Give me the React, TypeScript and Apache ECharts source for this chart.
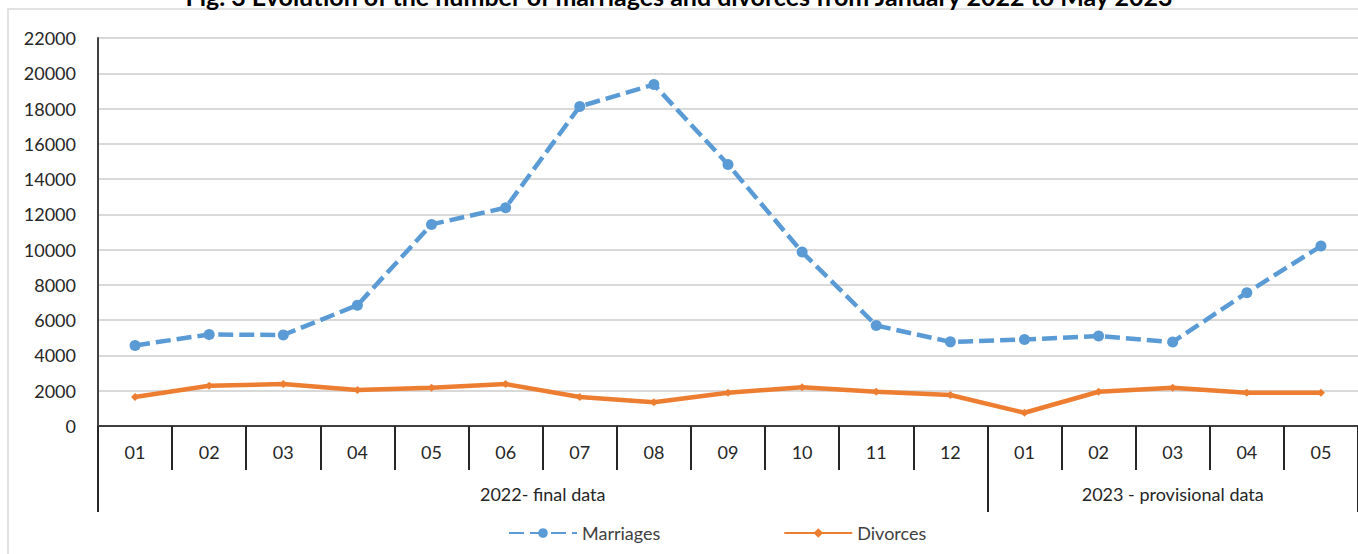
import React, { useEffect, useRef } from "react";
import * as echarts from "echarts";

const titleText = "Fig. 3 Evolution of the number of marriages and divorces from January 2022 to May 2023";
const months = ["01", "02", "03", "04", "05", "06", "07", "08", "09", "10", "11", "12", "01", "02", "03", "04", "05"];
const marriages = [4570, 5190, 5160, 6850, 11430, 12380, 18120, 19360, 14830, 9860, 5700, 4770, 4900, 5100, 4760, 7560, 10200];
const divorces = [1650, 2280, 2380, 2040, 2170, 2380, 1640, 1350, 1890, 2200, 1940, 1760, 750, 1940, 2170, 1880, 1880];
const groupNames = ["2022- final data", "2023 - provisional data"];
const groupSizes = [12, 5];
const yTicks = { min: 0, max: 22000, interval: 2000 };

const FONT = "Lato, 'Open Sans', sans-serif";

export default function App() {
  const ref = useRef<HTMLDivElement>(null);
  useEffect(() => {
    if (!ref.current) return;
    const chart = echarts.init(ref.current, undefined, { renderer: "svg" });

    const bounds: number[] = [0];
    groupSizes.forEach((s) => bounds.push(bounds[bounds.length - 1] + s));
    const centers = groupSizes.map((s, i) => bounds[i] + s / 2);

    chart.setOption({
      animation: false,
      backgroundColor: "#ffffff",
      textStyle: { fontFamily: FONT },
      title: {
        text: titleText,
        left: "center",
        top: -22,
        textStyle: { fontFamily: FONT, fontWeight: "bold", fontSize: 25, color: "#000" },
      },
      graphic: [
        {
          type: "rect",
          silent: true,
          shape: { x: 8, y: 9, width: 1380, height: 560 },
          style: { fill: "none", stroke: "#d9d9d9", lineWidth: 1.5 },
          z: -1,
        },
      ],
      legend: {
        left: 503,
        top: 519,
        itemWidth: 68,
        itemHeight: 12,
        itemGap: 123,
        textStyle: { fontFamily: FONT, fontSize: 18, color: "#404040" },
        data: ["Marriages", "Divorces"],
      },
      grid: { left: 98, top: 38, width: 1262, height: 388, containLabel: false },
      xAxis: [
        {
          type: "category",
          data: months,
          boundaryGap: true,
          axisLine: { show: true, lineStyle: { color: "#404040", width: 2 } },
          axisTick: { show: true, interval: 0, length: 44, lineStyle: { color: "#262626", width: 2 } },
          axisLabel: { interval: 0, margin: 17, fontFamily: FONT, fontSize: 18, color: "#262626" },
          splitLine: { show: false },
        },
        {
          type: "value",
          position: "bottom",
          min: 0,
          max: months.length,
          axisLine: { show: false },
          splitLine: { show: false },
          axisTick: {
            show: true,
            customValues: bounds,
            length: 86,
            lineStyle: { color: "#262626", width: 2 },
          },
          axisLabel: {
            show: true,
            customValues: centers,
            margin: 59,
            fontFamily: FONT,
            fontSize: 18,
            color: "#262626",
            formatter: (v: number) => {
              const i = centers.findIndex((c) => Math.abs(c - v) < 1e-6);
              return i >= 0 ? groupNames[i] : "";
            },
          },
        },
      ],
      yAxis: {
        type: "value",
        min: yTicks.min,
        max: yTicks.max,
        interval: yTicks.interval,
        axisLine: { show: true, lineStyle: { color: "#404040", width: 2 } },
        axisTick: { show: false },
        axisLabel: {
          margin: 22,
          fontFamily: FONT,
          fontSize: 18,
          color: "#262626",
          formatter: (v: number) => String(v),
        },
        splitLine: { show: true, lineStyle: { color: "#d9d9d9", width: 2 } },
      },
      series: [
        {
          name: "Marriages",
          type: "line",
          xAxisIndex: 0,
          data: marriages,
          symbol: "circle",
          symbolSize: 11,
          itemStyle: { color: "#5b9bd5" },
          lineStyle: { color: "#5b9bd5", width: 4.5, type: [15, 6] },
          z: 3,
        },
        {
          name: "Divorces",
          type: "line",
          xAxisIndex: 0,
          data: divorces,
          symbol: "diamond",
          symbolSize: 8,
          itemStyle: { color: "#ed7d31" },
          lineStyle: { color: "#ed7d31", width: 4.5 },
          z: 2,
        },
      ],
    });
    return () => chart.dispose();
  }, []);
  return (
    <div
      ref={ref}
      style={{ position: "fixed", left: 0, top: 0, width: 1358, height: 554, background: "#fff" }}
    />
  );
}
